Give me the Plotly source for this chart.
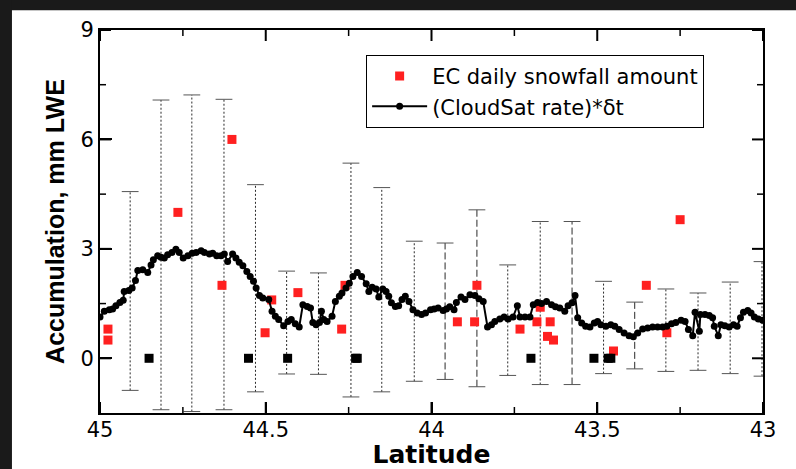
import plotly.graph_objects as go

# CloudSat rate * dt (line with markers)
cs_lat = [45.000, 44.987, 44.972, 44.962, 44.952, 44.940, 44.930, 44.927, 44.913, 44.903,
          44.893, 44.886, 44.871, 44.856, 44.846, 44.839, 44.826, 44.816, 44.806, 44.796,
          44.783, 44.771, 44.761, 44.749, 44.735, 44.722, 44.710, 44.695, 44.685, 44.670,
          44.660, 44.648, 44.635, 44.625, 44.615, 44.600, 44.590, 44.580, 44.569, 44.557,
          44.547, 44.537, 44.529, 44.519, 44.509, 44.491, 44.481, 44.471, 44.461, 44.446,
          44.433, 44.423, 44.411, 44.399, 44.388, 44.375, 44.365, 44.358, 44.348, 44.338,
          44.332, 44.325, 44.315, 44.300, 44.290, 44.278, 44.270, 44.258, 44.248, 44.237,
          44.224, 44.211, 44.197, 44.189, 44.179, 44.167, 44.159, 44.147, 44.137, 44.129,
          44.121, 44.109, 44.099, 44.089, 44.079, 44.068, 44.056, 44.043, 44.030, 44.018,
          44.003, 43.992, 43.980, 43.965, 43.955, 43.945, 43.932, 43.925, 43.911, 43.899,
          43.884, 43.869, 43.857, 43.844, 43.831, 43.819, 43.809, 43.794, 43.781, 43.769,
          43.754, 43.741, 43.733, 43.718, 43.703, 43.693, 43.680, 43.668, 43.653, 43.638,
          43.626, 43.613, 43.598, 43.588, 43.576, 43.567, 43.559, 43.547, 43.535, 43.522,
          43.509, 43.499, 43.489, 43.474, 43.459, 43.447, 43.434, 43.419, 43.404, 43.391,
          43.378, 43.363, 43.348, 43.333, 43.318, 43.303, 43.290, 43.276, 43.263, 43.247,
          43.235, 43.225, 43.212, 43.205, 43.192, 43.189, 43.175, 43.162, 43.152, 43.147,
          43.135, 43.127, 43.115, 43.102, 43.089, 43.078, 43.068, 43.059, 43.046, 43.036,
          43.026, 43.014, 43.001]
cs_val = [1.13, 1.29, 1.33, 1.35, 1.44, 1.53, 1.59, 1.83, 1.86, 1.93,
          2.13, 2.41, 2.43, 2.35, 2.56, 2.70, 2.81, 2.77, 2.75, 2.84,
          2.90, 2.99, 2.90, 2.75, 2.81, 2.88, 2.90, 2.95, 2.90, 2.86,
          2.88, 2.81, 2.81, 2.86, 2.65, 2.86, 2.75, 2.63, 2.54, 2.38,
          2.24, 2.11, 1.93, 1.72, 1.65, 1.61, 1.29, 1.15, 1.06, 0.89,
          1.01, 1.06, 0.95, 0.86, 1.47, 1.42, 1.38, 0.98, 0.92, 0.98,
          1.29, 1.06, 1.01, 1.15, 1.56, 1.70, 1.79, 1.93, 2.06, 2.24,
          2.35, 2.24, 2.04, 1.83, 1.95, 1.90, 1.68, 1.90, 1.83, 1.70,
          1.52, 1.42, 1.44, 1.61, 1.70, 1.56, 1.33, 1.24, 1.20, 1.24,
          1.33, 1.35, 1.38, 1.31, 1.35, 1.41, 1.33, 1.53, 1.68, 1.61,
          1.74, 1.72, 1.63, 1.56, 0.86, 0.92, 1.01, 1.08, 1.13, 1.08,
          1.13, 1.44, 1.13, 1.13, 1.13, 1.47, 1.53, 1.50, 1.56, 1.47,
          1.41, 1.38, 1.29, 1.44, 1.52, 1.72, 1.11, 0.97, 0.88, 0.86,
          0.97, 1.01, 0.92, 0.88, 0.92, 0.88, 0.79, 0.69, 0.62, 0.59,
          0.69, 0.80, 0.83, 0.86, 0.86, 0.86, 0.88, 0.95, 0.98, 1.04,
          1.01, 0.79, 0.62, 1.26, 0.74, 1.20, 1.20, 1.17, 1.11, 0.88,
          0.62, 0.92, 0.89, 0.86, 0.92, 0.88, 1.11, 1.26, 1.31, 1.24,
          1.13, 1.08, 1.04]

# EC daily snowfall amount (red squares)
ec_lat = [44.976, 44.976, 44.765, 44.602, 44.632, 44.502, 44.482, 44.403, 44.261, 44.271,
          43.922, 43.870, 43.863, 43.733, 43.682, 43.672, 43.642, 43.650, 43.632, 43.451,
          43.352, 43.290, 43.250]
ec_val = [0.8, 0.5, 4.0, 6.0, 2.0, 0.7, 1.6, 1.8, 2.0, 0.8,
          1.0, 1.0, 2.0, 0.8, 1.0, 1.4, 1.0, 0.6, 0.5, 0.2,
          2.0, 0.7, 3.8]

# EC days with zero snowfall (black squares)
zero_lat = [44.852, 44.552, 44.434, 44.229, 44.224, 43.700, 43.510, 43.467, 43.459]
zero_val = [0, 0, 0, 0, 0, 0, 0, 0, 0]

# Uncertainty ranges (vertical bars)
bar_lat = [44.909, 44.816, 44.723, 44.626, 44.531, 44.437, 44.341, 44.243, 44.150, 44.052,
           43.959, 43.863, 43.770, 43.672, 43.576, 43.481, 43.387, 43.293, 43.196, 43.099,
           43.003]
bar_lo = [-0.88, -1.41, -1.46, -1.41, -0.92, -0.43, -0.44, -1.06, -0.92, -0.63,
          -0.58, -0.78, -0.47, -0.72, -0.72, -0.42, -0.29, -0.36, -0.33, -0.42,
          -0.49]
bar_hi = [4.57, 7.08, 7.22, 7.10, 4.76, 2.39, 2.34, 5.35, 4.68, 3.21,
          3.16, 4.07, 2.56, 3.75, 3.75, 2.11, 1.54, 1.90, 1.79, 2.09,
          2.65]
bar_style = ["dot", "dot", "dot", "dot", "dot", "dot", "dot", "dot", "dot", "dot",
             "dash", "dash", "dot", "dot", "dash", "dot", "dash", "dot", "dot", "dot",
             "dot"]

# axis ticks
x_major = [45, 44.5, 44, 43.5, 43]
x_minor = [44.75, 44.25, 43.75, 43.25]
y_major = [0, 3, 6, 9]
y_minor = [1.5, 4.5, 7.5]

X_RANGE = [45, 43]
Y_RANGE = [-1.5, 9]

W, H = 796, 469
M = dict(l=100, r=33, t=30, b=56)
PX_X = abs(X_RANGE[1] - X_RANGE[0]) / (W - M["l"] - M["r"])   # data units per pixel
PX_Y = abs(Y_RANGE[1] - Y_RANGE[0]) / (H - M["t"] - M["b"])

FONT = "DejaVu Sans, Liberation Sans, sans-serif"
FONT_Y = "Liberation Sans, Arial, sans-serif"
BAR_COLOR = "#2a2a2a"
DASHES = {"dot": "2px,2px", "dash": "7px,3px"}

fig = go.Figure()

for style in ["dot", "dash"]:
    xs, ys, cx, cy = [], [], [], []
    for la, lo, hi, st in zip(bar_lat, bar_lo, bar_hi, bar_style):
        if st != style:
            continue
        xs += [la, la, None]
        ys += [lo, hi, None]
        cx += [la, la]
        cy += [lo, hi]
    fig.add_trace(go.Scatter(x=xs, y=ys, mode="lines", showlegend=False, hoverinfo="skip",
                             line=dict(color=BAR_COLOR, width=1, dash=DASHES[style])))
    fig.add_trace(go.Scatter(x=cx, y=cy, mode="markers", showlegend=False, hoverinfo="skip",
                             marker=dict(symbol="line-ew", size=12,
                                         line=dict(color="#555555", width=1))))

fig.add_trace(go.Scatter(x=ec_lat, y=ec_val, mode="markers", name="EC daily snowfall amount",
                         marker=dict(symbol="square", size=9, color="#ff2020")))
fig.add_trace(go.Scatter(x=zero_lat, y=zero_val, mode="markers", showlegend=False,
                         marker=dict(symbol="square", size=9, color="black")))
fig.add_trace(go.Scatter(x=cs_lat, y=cs_val, mode="lines+markers", name="(CloudSat rate)*δt",
                         line=dict(color="black", width=2),
                         marker=dict(symbol="circle", size=7, color="black")))


# inward-pointing tick marks on all four sides of the frame
def tick_path(xvals, yvals, len_px):
    xs, ys = [], []
    lx = len_px * PX_Y
    for t in xvals:
        xs += [t, t, None, t, t, None]
        ys += [Y_RANGE[0], Y_RANGE[0] + lx, None, Y_RANGE[1], Y_RANGE[1] - lx, None]
    ly = len_px * PX_X
    for t in yvals:
        xs += [X_RANGE[0], X_RANGE[0] - ly, None, X_RANGE[1], X_RANGE[1] + ly, None]
        ys += [t, t, None, t, t, None]
    return xs, ys


for xv, yv, ln, wd in [(x_major, y_major, 11, 2), (x_minor, y_minor, 6, 1.5)]:
    tx, ty = tick_path(xv, yv, ln)
    fig.add_trace(go.Scatter(x=tx, y=ty, mode="lines", showlegend=False, hoverinfo="skip",
                             line=dict(color="black", width=wd)))

fig.update_layout(
    xaxis=dict(range=X_RANGE, tickmode="array", tickvals=x_major,
               showline=True, linecolor="black", linewidth=2, mirror=True,
               ticks="inside", ticklen=11, tickwidth=2, tickcolor="black",
               ticklabelstandoff=-3,
               showgrid=False, zeroline=False, automargin=False,
               tickfont=dict(family=FONT, size=21, color="black"),
               title=dict(text="<b>Latitude</b>", font=dict(family=FONT, size=25, color="black"),
                          standoff=2)),
    yaxis=dict(range=Y_RANGE, tickmode="array", tickvals=y_major,
               showline=True, linecolor="black", linewidth=2, mirror=True,
               ticks="inside", ticklen=12, tickwidth=2, tickcolor="black",
               showgrid=False, zeroline=False, automargin=False,
               tickfont=dict(family=FONT, size=21, color="black"),
               title=dict(text="<b>Accumulation, mm LWE</b>",
                          font=dict(family=FONT_Y, size=25, color="black"), standoff=9)),
)

# dark frame strips along the top and left edge of the picture
fig.add_shape(type="rect", xref="paper", yref="paper", x0=-0.2, x1=1.2, y0=1.0514, y1=1.2,
              fillcolor="#1a1a1a", line=dict(width=0))
fig.add_shape(type="rect", xref="paper", yref="paper", x0=-0.2, x1=-0.1328, y0=-0.3, y1=1.2,
              fillcolor="#1a1a1a", line=dict(width=0))

fig.update_layout(
    width=W, height=H,
    margin=M,
    paper_bgcolor="white", plot_bgcolor="white",
    font=dict(family=FONT, color="black"),
    legend=dict(x=0.4014, y=0.935, xanchor="left", yanchor="top",
                bgcolor="white", bordercolor="black", borderwidth=1,
                font=dict(family=FONT, size=21, color="black"),
                itemwidth=55, tracegroupgap=0),
)

fig.write_html("out.html")
